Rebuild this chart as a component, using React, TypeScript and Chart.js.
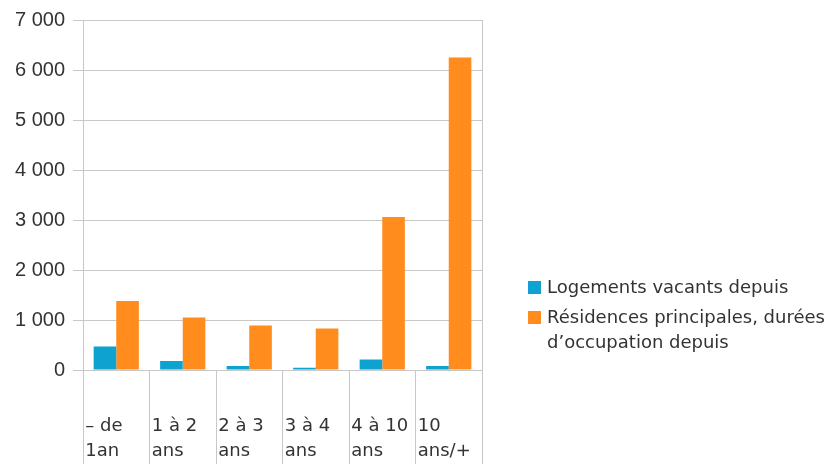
import React, { useEffect, useRef } from "react";
import { Chart, registerables } from "chart.js";

Chart.register(...registerables);

const categories: string[][] = [
  ["– de", "1an"],
  ["1 à 2", "ans"],
  ["2 à 3", "ans"],
  ["3 à 4", "ans"],
  ["4 à 10", "ans"],
  ["10", "ans/+"],
];
const seriesNames = [
  "Logements vacants depuis",
  "Résidences principales, durées d’occupation depuis",
];
const legendLines: string[][] = [
  ["Logements vacants depuis"],
  ["Résidences principales, durées", "d’occupation depuis"],
];
const vacants = [470, 180, 80, 45, 210, 80];
const residences = [1380, 1050, 890, 830, 3060, 6250];
const colors = ["#0ea2d0", "#ff8c1c"];
const yTicks = [0, 1000, 2000, 3000, 4000, 5000, 6000, 7000];

const GRID = "#c8c8c8";
const LABEL_FONT = "'DejaVu Sans', sans-serif";

export default function App() {
  const ref = useRef<HTMLCanvasElement | null>(null);

  useEffect(() => {
    if (!ref.current) return;
    const chart = new Chart(ref.current, {
      type: "bar",
      data: {
        labels: categories,
        datasets: [
          {
            label: seriesNames[0],
            data: vacants,
            backgroundColor: colors[0],
            categoryPercentage: 0.68,
            barPercentage: 1,
          },
          {
            label: seriesNames[1],
            data: residences,
            backgroundColor: colors[1],
            categoryPercentage: 0.68,
            barPercentage: 1,
          },
        ],
      },
      options: {
        responsive: false,
        animation: false,
        layout: { padding: { top: 8, right: 343, left: 0, bottom: 0 } },
        plugins: { legend: { display: false }, tooltip: { enabled: false } },
        scales: {
          x: {
            grid: {
              display: true,
              drawOnChartArea: false,
              drawTicks: true,
              tickLength: 94,
              color: GRID,
              offset: true,
            },
            border: { display: true, color: GRID },
            ticks: {
              autoSkip: false,
              maxRotation: 0,
              minRotation: 0,
              align: "start",
              labelOffset: -31,
              padding: -50,
              color: "#333",
              font: { family: LABEL_FONT, size: 18, lineHeight: "25px" } as any,
            },
            afterFit: (axis: any) => {
              axis.height = 94;
            },
          },
          y: {
            min: 0,
            max: 7000,
            afterBuildTicks: (axis: any) => {
              axis.ticks = yTicks.map((v) => ({ value: v }));
            },
            grid: { color: GRID, tickLength: 10 },
            border: { display: true, color: GRID },
            ticks: {
              padding: 8,
              color: "#333",
              font: { family: "'Liberation Sans', Arial, sans-serif", size: 20 },
              callback: (v: any) =>
                Number(v).toLocaleString("en-US").replace(/,/g, " "),
            },
            afterFit: (axis: any) => {
              axis.width = 83;
            },
          },
          y2: {
            position: "right",
            min: 0,
            max: 7000,
            grid: { display: false },
            ticks: { display: false },
            border: { display: true, color: GRID },
            afterFit: (axis: any) => {
              axis.width = 0;
            },
          },
        },
      },
    });
    return () => chart.destroy();
  }, []);

  const legendText: React.CSSProperties = {
    fontFamily: LABEL_FONT,
    fontSize: 18,
    color: "#333",
    lineHeight: "25px",
    whiteSpace: "nowrap",
  };

  return (
    <div
      style={{
        position: "fixed",
        left: 0,
        top: 0,
        width: 825,
        height: 464,
        background: "#fff",
        overflow: "hidden",
      }}
    >
      <canvas ref={ref} width={825} height={464} style={{ display: "block" }} />
      <div style={{ position: "absolute", left: 528, top: 274, width: 297 }}>
        {legendLines.map((lines, i) => (
          <div key={i} style={{ display: "flex", alignItems: "flex-start", marginBottom: 5 }}>
            <div
              style={{
                width: 13,
                height: 13,
                background: colors[i],
                marginTop: 7,
                marginRight: 6,
                flex: "none",
              }}
            />
            <div style={legendText}>
              {lines.map((l) => (
                <div key={l}>{l}</div>
              ))}
            </div>
          </div>
        ))}
      </div>
    </div>
  );
}
